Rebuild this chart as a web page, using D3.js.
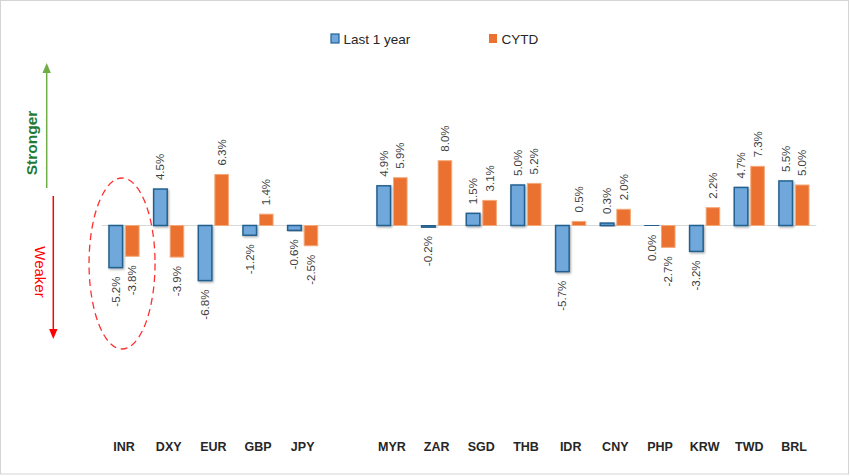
<!DOCTYPE html>
<html>
<head>
<meta charset="utf-8">
<script src="https://cdn.jsdelivr.net/npm/d3@7"></script>
<style>
  html, body { margin: 0; padding: 0; background: #fff; }
  svg { display: block; font-family: "Liberation Sans", Arial, sans-serif; }
</style>
</head>
<body>
<svg id="chart" width="850" height="476"></svg>
<script>
// ---- data ----
const categories = ["INR", "DXY", "EUR", "GBP", "JPY", "", "MYR", "ZAR", "SGD", "THB", "IDR", "CNY", "PHP", "KRW", "TWD", "BRL"];
const lastYear   = [-5.2, 4.5, -6.8, -1.2, -0.6, null, 4.9, -0.2, 1.5, 5.0, -5.7, 0.3, -0.04, -3.2, 4.7, 5.5];
const cytd       = [-3.8, -3.9, 6.3, 1.4, -2.5, null, 5.9, 8.0, 3.1, 5.2, 0.5, 2.0, -2.7, 2.2, 7.3, 5.0];
const seriesNames = ["Last 1 year", "CYTD"];

const svg = d3.select("#chart");
const W = 850, H = 476;

// border
svg.append("rect").attr("x", 0.5).attr("y", 0.5).attr("width", W - 2).attr("height", H - 2.5)
  .attr("fill", "#fff").attr("stroke", "#d4d4d4").attr("stroke-width", 1);

const defs = svg.append("defs");
const f = defs.append("filter").attr("id", "shadow").attr("x", "-20%").attr("y", "-20%").attr("width", "150%").attr("height", "150%");
f.append("feDropShadow").attr("dx", 1).attr("dy", 1.2).attr("stdDeviation", 0.8).attr("flood-color", "#000").attr("flood-opacity", 0.35);

// scales
const x = d3.scaleBand().domain(categories).range([101.7, 816.3]).paddingInner(0).paddingOuter(0);
const xSub = d3.scaleBand().domain(seriesNames).range([0, x.bandwidth()]).paddingInner(0.18).paddingOuter(0.44);
const y = d3.scaleLinear().domain([-10, 10]).range([306.5, 144.5]);

const data = categories.map((c, i) => ({ cat: c, vals: [
  { s: seriesNames[0], v: lastYear[i] },
  { s: seriesNames[1], v: cytd[i] }
]}));

// baseline
svg.append("line").attr("x1", x.range()[0]).attr("x2", x.range()[1])
  .attr("y1", y(0)).attr("y2", y(0)).attr("stroke", "#d9d9d9").attr("stroke-width", 1.2);

const locale = d3.formatLocale({ decimal: ".", thousands: ",", grouping: [3], currency: ["", ""], minus: "-" });
const f1 = locale.format(".1f");
const fmt = v => (Math.abs(v) < 0.05 ? "0.0" : f1(v)) + "%";

const groups = svg.append("g").selectAll("g").data(data.filter(d => d.cat !== "")).join("g")
  .attr("transform", d => `translate(${x(d.cat)},0)`);

groups.selectAll("rect").data(d => d.vals).join("rect")
  .attr("x", d => xSub(d.s))
  .attr("width", xSub.bandwidth())
  .attr("y", d => y(Math.max(0, d.v)))
  .attr("height", d => Math.abs(y(d.v) - y(0)))
  .attr("fill", d => d.s === seriesNames[0] ? "#6fa8dc" : "#ea7130")
  .attr("stroke", d => d.s === seriesNames[0] ? "#24618f" : "#f5a877")
  .attr("stroke-width", d => d.s === seriesNames[0] ? 1.5 : 1)
  .attr("filter", d => d.s === seriesNames[0] ? "url(#shadow)" : null);

groups.selectAll("text").data(d => d.vals).join("text")
  .attr("transform", d => {
    const cx = xSub(d.s) + xSub.bandwidth() / 2;
    const yy = d.v >= 0 ? y(d.v) - 9 : y(d.v) + 9;
    return `translate(${cx},${yy}) rotate(-90)`;
  })
  .attr("text-anchor", d => d.v >= 0 ? "start" : "end")
  .attr("dy", "0.35em")
  .attr("font-size", "11.5px")
  .attr("fill", "#404040")
  .text(d => fmt(d.v));

// x axis labels
const xAxis = svg.append("g").attr("transform", "translate(0,442)")
  .call(d3.axisBottom(x).tickSize(0).tickPadding(0));
xAxis.select(".domain").remove();
xAxis.selectAll("text").attr("font-size", "12.5px").attr("font-weight", "bold")
  .attr("fill", "#262626").attr("font-family", "'Liberation Sans', Arial, sans-serif");

// legend
const legend = svg.append("g");
const legendItems = [
  { name: seriesNames[0], x: 331, fill: "#6fa8dc", stroke: "#24618f" },
  { name: seriesNames[1], x: 489, fill: "#ea7130", stroke: "none" }
];
legendItems.forEach(it => {
  legend.append("rect").attr("x", it.x).attr("y", 34).attr("width", 8).attr("height", 9)
    .attr("fill", it.fill).attr("stroke", it.stroke).attr("stroke-width", 1.2);
  legend.append("text").attr("x", it.x + 12.5).attr("y", 43.5).attr("font-size", "13.5px")
    .attr("fill", "#262626").text(it.name);
});

// strength arrows
const ann = svg.append("g");
ann.append("line").attr("x1", 46.7).attr("x2", 46.7).attr("y1", 188).attr("y2", 72)
  .attr("stroke", "#70ad47").attr("stroke-width", 1.5);
ann.append("path").attr("d", "M46.7,63 L42.5,73 L50.9,73 Z").attr("fill", "#70ad47");
ann.append("text").attr("transform", "translate(36.5,143) rotate(-90)").attr("text-anchor", "middle")
  .attr("font-size", "15.5px").attr("font-weight", "bold").attr("fill", "#1e7a34").text("Stronger");

ann.append("line").attr("x1", 53.3).attr("x2", 53.3).attr("y1", 196).attr("y2", 330)
  .attr("stroke", "#ff0000").attr("stroke-width", 1.5);
ann.append("path").attr("d", "M53.3,339 L49.1,329 L57.5,329 Z").attr("fill", "#ff0000");
ann.append("text").attr("transform", "translate(35,272) rotate(90)").attr("text-anchor", "middle")
  .attr("font-size", "15px").attr("fill", "#ff0000").text("Weaker");

// highlight ellipse around INR
ann.append("ellipse")
  .attr("cx", x("INR") + x.bandwidth() / 2 - 2).attr("cy", y(0) + 38)
  .attr("rx", 33).attr("ry", 85.5)
  .attr("fill", "none").attr("stroke", "#ff3030")
  .attr("stroke-width", 1.3).attr("stroke-dasharray", "7,4.5");
</script>
</body>
</html>
